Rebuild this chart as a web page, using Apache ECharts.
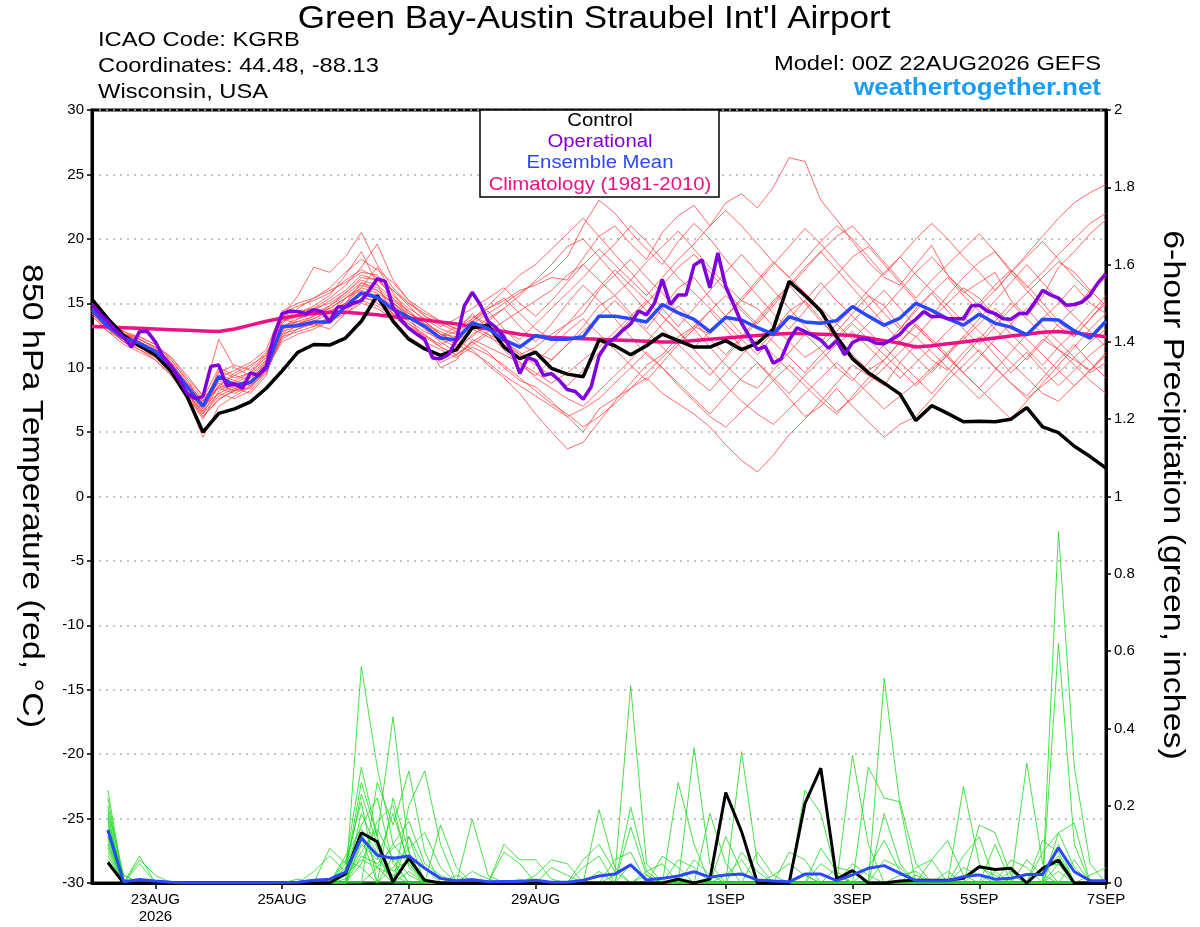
<!DOCTYPE html>
<html><head><meta charset="utf-8">
<script src="https://cdn.jsdelivr.net/npm/echarts@6/dist/echarts.min.js"></script>
<style>html,body{margin:0;padding:0;background:#fff}#c{width:1200px;height:927px}</style>
</head><body><div id="c"></div>
<script>
// ---------------- DATA ----------------
const titleText = "Green Bay-Austin Straubel Int'l Airport";
const xTickLabels = ['23AUG','25AUG','27AUG','29AUG','1SEP','3SEP','5SEP','7SEP'];
const yearLabel = '2026';

// 6-hourly (22AUG 00Z .. 7SEP 00Z), 850 hPa temperature, deg C
const climo = [13.2,13.15,13.1,13.05,13.0,12.95,12.9,12.85, 12.8,13.0,13.3,13.6,13.85,14.05,14.2,14.3, 14.3,14.2,14.1,13.95,13.85,13.7,13.55,13.4, 13.2,13.0,12.8,12.6,12.45,12.35,12.3,12.25, 12.2,12.15,12.1,12.05,12.0,12.0,12.1,12.2, 12.3,12.4,12.5,12.6,12.65,12.65,12.6,12.55, 12.5,12.3,12.1,11.9,11.6,11.7,11.85,12.0, 12.15,12.3,12.45,12.6,12.75,12.8,12.7,12.55, 12.4];
const controlT = [15.3,13.8,12.5,11.7,11.0,9.7,7.75,5.0, 6.45,6.8,7.35,8.4,9.75,11.2,11.8,11.75, 12.3,13.6,15.6,13.6,12.2,11.45,10.95,11.4, 13.1,13.3,11.6,10.7,11.2,9.95,9.5,9.3, 12.15,11.7,11.0,11.7,12.6,12.1,11.6,11.6, 12.1,11.4,11.9,13.0,16.7,15.6,14.4,12.4, 10.7,9.6,8.8,7.95,5.9,7.05,6.45,5.8, 5.85,5.8,6.0,6.9,5.4,4.95,3.9,3.1, 2.2];
const meanT = [14.5,13.2,12.3,11.9,11.25,10.1,8.55,7.0, 9.3,8.65,8.85,9.95,13.2,13.25,13.55,13.55, 14.75,15.8,15.45,14.55,13.9,13.2,12.3,12.15, 13.5,13.05,12.15,11.6,12.5,12.2,12.2,12.4, 14.0,14.0,13.8,13.55,14.9,14.25,13.75,12.8, 13.9,13.7,13.1,12.6,13.95,13.55,13.45,13.65, 14.75,14.0,13.3,13.85,15.0,14.45,13.8,13.3, 14.15,13.45,13.15,12.55,13.75,13.7,12.85,12.3, 13.6];
// 3-hourly operational run
const operT = [14.9,14.2,13.6,12.9,12.35,11.6,12.8,12.8, 12.0,10.85,10.1,9.1,8.0,7.6,7.75,10.1, 10.2,8.6,8.75,8.4,9.6,9.4,10.1,12.55, 14.2,14.4,14.35,14.2,14.5,14.35,13.6,14.7, 14.7,15.0,15.2,16.0,16.9,16.7,14.7,13.7, 13.05,12.6,12.2,10.75,10.7,11.0,12.15,14.8, 15.85,14.9,13.6,13.1,12.4,11.25,9.55,10.8, 10.55,9.4,9.55,9.0,8.3,8.15,7.55,8.5, 10.9,11.85,12.3,12.9,13.4,14.4,14.1,15.0, 16.85,14.9,15.65,15.65,17.95,18.35,16.2,18.9, 16.3,14.9,13.45,12.4,11.4,11.65,10.35,10.7, 12.15,13.1,12.8,12.5,12.15,11.5,12.1,11.0, 11.95,12.25,12.2,11.9,11.85,12.2,12.6,13.3, 13.75,14.35,13.95,14.0,13.8,13.8,13.8,14.8, 14.85,14.4,14.2,13.8,13.75,14.2,14.2,15.05, 16.0,15.65,15.4,14.85,14.9,15.1,15.65,16.6, 17.3];

// 6-hour precipitation, inches (first value is the 00Z analysis: none)
const controlP = [null,.053,0,0,0,0,0,0, 0,0,0,0,0,0,0,0, .024,.130,.107,.003,.064,.007,0,0, 0,0,0,0,0,0,0,0, 0,0,0,0,0,.01,0,.01, .234,.133,0,0,0,.206,.297,.01, .032,0,0,.005,.007,.007,.007,.012, .042,.035,.038,0,.038,.059,0,0, 0];
const meanP = [null,.137,.003,.009,.005,.002,0,0, 0,0,0,0,.001,.002,.007,.01, .028,.117,.072,.064,.07,.038,.012,.006, .009,.003,.004,.004,.007,.002,.002,.007, .018,.023,.047,.008,.012,.018,.029,.015, .021,.023,.008,.005,.003,.023,.023,.006, .021,.038,.045,.025,.006,.006,.006,.016, .021,.01,.012,.022,.022,.091,.029,.006, .006];

// ensemble members, temperature (red)
const redMembers = [
[14.4,13.0,12.6,12.2,11.5,10.3,8.0,6.2,7.5,8.3,9.2,10.5, 12.8,14.2,14.8,15.6,17.2,19.0,16.5,14.0,13.2,12.5,11.8,12.4, 13.8,14.6,15.2,16.0,16.4,17.0,16.8,18.5,20.2,21.0,19.6,18.4, 20.5,21.8,22.6,21.0,22.8,23.5,22.4,24.0,26.3,26.0,23.0,21.5, 19.8,18.2,17.0,16.4,18.0,19.5,17.2,15.8,16.6,17.4,15.2,14.0, 15.5,17.8,19.0,20.4,21.5],
[14.8,13.6,12.2,11.6,10.8,9.6,7.6,4.6,7.0,7.8,8.5,9.8, 12.6,13.0,13.4,13.0,14.2,15.0,14.6,13.8,12.4,11.6,10.4,11.0, 12.0,11.2,10.0,9.0,8.5,7.4,6.2,5.0,6.8,7.6,8.4,9.2, 8.0,7.2,6.4,5.4,4.0,2.8,1.9,3.2,4.8,6.0,7.4,8.8, 10.2,9.4,8.6,10.4,11.8,10.6,9.8,11.2,12.4,11.0,9.6,10.8, 12.2,11.4,10.6,9.8,11.2],
[14.6,13.4,12.8,12.2,11.6,10.4,8.8,7.4,9.4,9.0,8.6,9.6, 12.4,13.4,13.8,14.4,15.0,16.2,17.8,15.8,14.2,13.4,12.8,12.2, 11.4,10.2,9.2,8.0,6.4,5.0,3.7,4.2,5.8,7.4,8.8,10.2, 11.0,12.4,13.2,12.6,14.0,15.2,14.6,13.2,12.0,10.8,11.6,12.8, 14.2,15.6,14.8,13.2,12.4,13.8,15.0,16.2,15.4,14.0,12.6,11.4, 10.2,11.6,12.8,14.2,15.6],
[14.2,13.0,12.0,11.4,10.8,9.8,8.2,6.8,8.6,9.6,10.2,11.0, 14.0,15.6,17.8,17.4,18.6,20.5,18.0,16.2,15.0,14.2,13.6,13.0, 13.4,14.2,15.0,15.8,16.6,17.4,18.6,21.0,23.0,22.0,20.5,19.2, 18.0,19.8,21.2,20.0,18.4,17.0,15.6,14.2,13.0,14.4,16.0,17.2, 18.6,19.4,18.0,16.6,15.2,14.0,15.6,17.0,18.2,19.0,17.4,16.0, 14.6,13.2,12.4,13.8,15.0],
[14.9,13.4,12.2,11.8,11.0,9.9,8.4,6.6,9.0,8.4,8.0,9.4, 13.2,13.6,13.2,14.0,15.4,16.4,16.0,15.0,14.2,13.6,12.6,12.0, 13.6,14.4,13.0,11.8,11.2,10.6,11.8,13.2,14.8,15.6,14.2,13.0, 14.6,16.2,17.0,15.4,14.0,12.6,11.4,12.8,14.4,15.2,13.8,12.2, 11.0,9.8,10.6,12.0,13.4,12.2,11.0,9.6,8.4,9.8,11.2,12.6, 13.8,15.0,16.4,15.0,14.2],
[14.4,13.2,12.6,12.0,11.4,10.6,9.0,7.6,10.0,9.4,9.0,10.4, 13.6,14.0,14.4,15.2,16.0,17.2,16.8,15.6,14.6,13.8,13.0,12.6, 13.0,12.4,11.8,11.0,11.6,12.6,13.4,14.2,16.0,17.2,18.4,17.0, 15.8,14.2,13.0,11.6,10.2,9.0,8.4,9.8,11.2,12.6,11.4,10.0, 9.0,10.4,11.8,13.0,14.6,15.8,14.4,13.0,11.8,13.2,14.6,15.8, 17.0,18.2,17.4,16.0,14.8],
[15.0,13.8,12.8,12.4,11.8,10.8,9.2,7.8,8.4,8.0,8.6,10.0, 12.0,12.6,13.0,13.6,14.4,15.4,15.2,14.4,13.6,12.8,12.2,11.6, 12.4,13.6,14.6,13.2,12.0,13.4,15.0,16.4,15.2,13.8,12.4,11.0, 10.0,8.8,7.6,6.4,7.8,9.2,10.4,9.0,7.6,6.2,7.0,8.4, 7.0,5.8,4.6,5.6,6.2,7.6,9.0,10.2,11.4,10.0,8.8,7.8, 9.2,10.6,11.8,10.4,9.2],
[14.0,12.8,11.8,11.2,10.6,9.4,7.8,6.0,8.2,8.8,9.4,10.6, 14.2,14.8,15.2,15.8,16.8,17.6,17.0,15.4,14.0,13.0,12.0,11.2, 12.6,13.2,12.2,11.0,10.2,9.4,8.6,9.8,11.2,12.4,13.8,15.0, 16.4,17.8,18.8,17.4,16.0,14.6,13.4,14.8,16.2,17.6,19.0,20.2, 21.0,19.6,18.2,16.8,15.4,16.8,18.0,19.2,20.4,19.0,17.6,16.2, 17.4,18.8,20.0,21.2,22.0],
[14.6,13.0,12.4,11.6,11.0,9.8,8.6,7.2,9.6,10.2,9.8,11.0, 13.8,13.4,14.0,14.8,15.6,16.6,16.2,15.2,14.4,13.2,12.4,12.8, 14.2,13.0,11.6,10.4,9.2,8.4,7.6,7.0,8.2,9.4,10.6,12.0, 13.4,14.8,13.6,12.2,11.0,12.4,13.8,15.2,16.4,15.0,13.6,12.4, 13.6,14.8,16.0,14.6,13.2,12.0,10.8,9.6,10.8,12.2,13.4,14.6, 13.2,12.0,10.8,9.6,10.4],
[15.2,13.6,12.6,12.0,11.2,10.0,8.2,6.4,7.8,8.4,8.8,9.8, 12.2,13.0,13.6,14.2,15.0,15.8,15.4,14.2,13.4,12.6,11.6,11.0, 12.0,12.8,13.6,14.4,15.2,16.0,17.2,18.0,16.8,15.6,16.8,18.2, 19.4,20.6,19.2,17.8,16.4,15.2,16.6,18.0,19.4,20.8,19.6,18.2, 16.8,15.6,14.2,13.0,14.4,15.8,17.0,15.6,14.4,13.0,11.8,10.6, 12.0,13.4,14.6,16.0,17.2],
[14.4,13.4,12.4,11.8,11.2,10.2,8.6,7.0,8.0,7.6,8.2,9.6, 12.6,13.8,14.2,14.6,15.4,16.0,15.6,14.8,14.0,13.2,12.4,11.8, 11.2,10.4,9.4,8.6,7.8,7.0,6.2,6.8,7.6,8.8,10.0,11.2, 10.0,8.6,7.4,6.2,5.4,6.6,7.8,9.0,10.2,9.0,7.8,6.6, 7.6,8.8,10.0,11.2,12.4,11.2,10.0,8.8,7.6,8.8,10.0,11.2, 9.8,8.6,9.8,11.0,12.0],
[14.8,13.2,12.0,11.6,11.0,10.2,8.8,7.4,9.2,9.8,10.4,11.4, 14.4,15.0,15.4,16.2,17.4,18.4,17.6,16.6,15.2,14.0,13.4,12.8, 13.6,14.6,15.4,14.2,13.0,12.2,13.4,14.8,16.2,17.6,16.4,15.2, 14.0,12.8,11.6,12.8,14.0,15.4,16.8,18.2,17.0,15.8,14.6,13.4, 12.2,13.4,14.6,16.0,17.4,18.6,17.2,16.0,14.8,16.0,17.4,18.6, 19.8,18.4,17.0,15.8,17.0],
[14.2,12.8,12.2,11.6,10.8,9.6,8.0,6.4,8.6,8.2,8.4,9.8, 13.0,13.4,13.8,14.4,15.0,16.6,16.0,15.0,14.0,12.0,10.0,10.6, 12.2,11.6,11.0,10.4,9.6,8.8,9.6,10.6,11.6,12.8,14.0,15.2, 14.0,12.8,11.4,10.0,8.6,7.4,6.4,5.6,6.8,8.0,9.2,10.4, 9.2,8.0,6.8,7.8,8.8,10.0,11.2,12.4,11.2,10.0,8.8,7.6, 8.6,9.6,10.8,12.0,13.0],
[14.6,13.4,12.6,12.4,11.8,10.6,9.0,7.2,8.4,9.0,9.6,10.8, 13.6,14.2,14.6,15.0,15.8,17.0,16.8,16.0,15.0,14.0,13.2,13.8, 14.6,15.4,16.2,15.0,14.0,15.2,16.6,18.0,19.2,18.0,16.8,15.6, 17.0,18.4,19.6,21.0,22.2,21.0,19.6,18.2,17.0,18.4,19.8,21.0, 20.0,18.6,17.2,18.6,20.0,21.2,20.0,18.6,17.4,16.0,17.4,18.8, 20.2,21.6,22.8,23.6,24.2],
[15.0,13.6,12.4,11.8,11.0,9.8,8.0,6.6,8.0,8.6,9.2,10.2, 12.8,13.2,13.4,13.8,14.8,15.6,15.0,14.2,13.4,12.4,11.6,11.0, 11.8,12.6,12.0,11.2,10.4,11.6,12.8,13.8,12.6,11.4,10.2,9.0, 10.4,11.8,13.0,14.4,15.6,14.4,13.2,12.0,10.8,9.6,11.0,12.2, 13.4,12.2,11.0,9.8,8.6,9.8,11.0,12.2,13.4,14.6,13.4,12.2, 11.0,9.8,8.6,9.8,11.0],
[14.4,13.0,12.2,11.8,11.2,10.0,8.4,7.0,9.8,9.2,9.6,10.8, 14.0,14.4,14.6,15.4,16.4,17.8,19.6,16.8,15.2,14.4,13.6,13.0, 13.8,14.8,16.0,17.2,18.0,19.2,20.4,21.6,20.2,18.8,17.4,16.0, 14.6,13.2,14.6,16.0,17.4,18.8,17.4,16.0,14.6,13.2,12.0,13.4, 14.6,16.0,17.4,18.6,17.2,16.0,14.8,13.6,15.0,16.4,17.6,16.4, 15.0,13.6,12.4,13.8,15.2],
[14.8,13.4,12.4,12.0,11.4,10.4,8.6,7.4,8.8,8.2,8.8,10.0, 12.4,12.8,13.2,13.6,14.2,15.2,14.8,14.0,13.0,12.0,11.4,10.8, 11.6,11.0,10.2,9.2,8.2,7.2,6.4,5.4,6.2,7.2,8.4,9.6, 10.8,12.0,13.2,14.4,13.0,11.6,10.4,9.2,8.0,9.4,10.6,11.8, 12.8,11.6,10.4,9.2,10.4,11.6,12.8,14.0,12.8,11.6,10.4,9.2, 8.0,7.4,8.6,9.8,11.0],
[14.2,13.0,12.0,11.4,10.6,9.4,7.8,6.2,7.6,8.2,8.8,10.4, 13.4,14.6,15.4,16.0,16.6,17.4,17.2,16.0,14.8,13.6,12.6,12.0, 13.0,13.8,14.6,15.6,16.8,18.0,19.4,20.0,18.6,17.2,15.8,14.4, 13.0,11.8,10.6,9.4,10.8,12.2,13.6,15.0,16.4,17.8,19.0,17.6, 16.2,14.8,13.4,12.0,10.8,9.6,11.0,12.4,13.8,15.2,16.6,18.0, 16.6,15.2,14.0,12.8,11.6],
[14.6,13.2,12.2,11.6,11.0,10.0,8.6,7.0,8.6,9.4,10.0,11.2, 13.2,13.8,14.2,14.8,15.8,16.8,16.4,15.4,14.4,13.4,12.6,12.4, 13.2,12.6,11.4,10.2,9.4,10.6,11.8,12.8,14.0,15.2,14.0,12.8, 11.6,10.4,9.2,8.2,9.6,11.0,12.2,11.0,9.8,8.6,7.4,6.4, 7.8,9.2,10.6,12.0,13.2,12.0,10.8,9.6,8.4,7.2,6.0,7.4, 8.8,10.2,11.6,13.0,14.2],
[15.0,13.8,12.6,12.2,11.6,10.8,9.4,7.8,12.2,10.0,9.4,10.6, 13.0,13.6,14.0,14.6,15.4,16.2,15.8,15.0,14.0,13.2,12.4,13.2, 14.0,13.4,12.8,12.2,13.4,14.6,15.8,17.0,18.4,19.6,21.0,19.8, 18.4,17.0,15.8,14.6,13.4,12.2,11.0,12.4,13.8,15.2,16.6,15.2, 14.0,12.8,11.6,10.4,9.2,8.0,9.4,10.8,12.2,13.6,15.0,13.8, 12.6,11.4,10.2,9.0,8.0]
];

// ensemble members, 6-hour precipitation (green)
const greenMembers = [
[null,.24,0,.07,0,0,0,0, 0,0,0,0,0,0,0,0, 0,.56,.30,.10,.05,0,0,0, 0,0,0,0,0,0,0,0, 0,.02,.51,.05,0,0,0,0, 0,0,0,0,0,0,0,0, 0,0,0,0,0,0,0,0, 0,0,0,0,0,.91,.30,.05, 0],
[null,.15,.02,0,0,0,0,0, 0,0,0,0,0,0,0,0, .05,.30,.12,.43,.08,0,0,0, 0,0,0,0,0,0,0,0, 0,0,0,0,0,0,.35,.05, 0,0,0,0,0,0,0,0, 0,0,.53,.20,0,0,0,0, 0,0,0,0,0,.62,.10,0, 0],
[null,.12,0,.06,.02,0,0,0, 0,0,0,0,0,0,0,0, 0,0,.26,.15,.29,.08,0,0, 0,0,0,0,0,0,0,0, 0,0,0,0,0,0,0,0, 0,.34,.05,0,0,0,0,0, .33,.10,0,0,0,0,0,0, 0,0,0,.31,.05,0,0,0, 0],
[null,.10,0,0,0,0,0,0, 0,0,0,0,0,0,0,.09, .05,.21,0,0,.20,.29,.10,0, 0,0,0,0,0,0,0,0, 0,0,0,0,0,0,0,0, 0,0,0,0,0,.24,.18,.02, 0,0,0,0,0,0,0,.25, .05,0,0,0,0,0,0,0, 0],
[null,.18,0,0,0,0,0,0, 0,0,0,0,0,0,.03,.07, .03,.26,.12,0,0,0,.15,.04, 0,0,0,0,0,0,0,0, .19,.04,0,0,0,0,0,0, 0,0,0,0,0,0,0,0, 0,.30,.22,.21,.05,0,0,0, 0,0,0,0,0,0,0,0, 0],
[null,.08,0,0,0,0,0,0, 0,0,0,0,0,0,0,0, .04,.15,.22,.05,0,0,0,0, .165,.02,0,0,0,0,0,0, 0,0,0,0,0,.26,.10,0, 0,0,0,0,0,0,0,0, 0,0,0,0,0,0,0,0, .15,.13,.02,0,0,0,0,0, 0],
[null,.13,0,0,0,0,0,0, 0,0,0,0,0,0,0,0, 0,.10,.06,.18,.05,0,0,0, 0,0,.10,.06,.06,.01,0,0, 0,0,.197,.03,0,0,0,0, 0,0,0,0,0,0,0,0, 0,0,0,0,0,.06,.11,.02, 0,0,0,0,0,.13,.155,0, 0],
[null,.20,.01,0,0,0,0,0, 0,0,0,0,0,0,0,0, .07,.14,.08,0,.12,.04,0,0, 0,0,0,0,0,0,0,.06, .10,.03,0,0,0,0,0,.18, .05,0,0,0,0,0,0,0, 0,0,0,0,0,0,0,0, 0,0,0,0,.11,.08,0,0, 0],
[null,.06,0,0,0,0,0,0, 0,0,0,0,0,.01,0,0, .02,.12,0,.22,.08,0,0,0, 0,0,0,0,0,0,0,0, 0,0,.145,.02,0,0,0,0, 0,0,0,0,.08,.06,0,0, 0,0,.18,.05,0,0,0,0, 0,.10,0,0,0,0,0,0, 0],
[null,.16,0,0,0,0,0,0, 0,0,0,0,0,0,0,0, 0,0,.04,.10,.16,.05,.02,0, 0,0,0,0,0,0,0,0, 0,0,0,0,.07,.04,0,0, 0,.08,.03,0,0,0,0,0, 0,0,0,0,.04,.06,0,0, 0,0,.06,.04,0,.10,0,0, 0],
[null,.11,0,0,0,0,0,0, 0,0,0,0,0,0,0,0, 0,.07,.05,.09,.12,0,0,0, 0,0,0,0,.02,.06,.05,0, 0,0,0,0,0,0,0,0, 0,0,0,0,0,0,.09,.03, 0,0,0,0,0,0,0,.07, .12,0,0,0,.08,.13,.04,0, 0],
[null,.09,0,0,0,0,0,0, 0,0,0,0,0,0,0,0, .01,.08,.14,.06,0,0,0,.02, 0,0,.08,.05,0,0,0,0, 0,0,0,0,0,0,.06,.02, 0,0,0,0,0,0,0,0, 0,.04,.11,.03,0,0,0,0, 0,0,0,0,0,0,0,.02, .04],
[null,.22,0,0,0,0,0,0, 0,0,0,0,0,0,0,0, 0,.18,.09,.03,.06,0,0,0, 0,0,0,0,0,0,0,0, 0,0,0,.03,.05,0,0,0, 0,0,.08,.02,0,0,0,0, .05,.02,0,0,0,0,0,0, .04,.02,0,0,.03,.07,0,0, 0],
[null,.14,0,0,0,0,0,0, 0,0,0,0,0,0,0,0, .06,.04,0,.07,.02,0,0,0, 0,0,0,0,0,0,0,.04, .07,0,0,0,0,0,0,0, .12,.03,0,0,0,0,0,0, 0,0,0,0,0,0,.03,0, 0,0,0,.06,.02,0,0,0, 0],
[null,.07,0,0,0,0,0,0, 0,0,0,0,0,0,0,0, 0,.05,.16,.20,.04,0,0,0, 0,0,0,0,0,0,0,0, 0,.06,.08,0,0,0,0,0, 0,0,0,0,0,0,0,.04, .03,0,0,0,.02,0,0,0, 0,0,0,0,0,.03,0,0, 0],
[null,.19,.02,0,0,0,0,0, 0,0,0,0,0,0,0,0, .03,.23,.10,0,0,0,0,0, 0,0,0,0,0,0,0,0, 0,0,0,0,0,.06,.04,0, 0,0,0,0,0,.02,0,0, 0,0,.06,.04,0,0,0,0, 0,0,.03,0,0,0,.06,0, 0],
[null,.05,0,0,0,0,0,0, 0,0,0,0,0,0,0,0, 0,0,0,.04,.09,.13,.04,0, 0,0,0,0,0,.04,.02,0, 0,0,0,0,0,0,0,0, 0,0,0,.02,.05,.02,0,0, 0,0,0,0,0,0,0,0, 0,0,0,0,0,.05,0,0, 0],
[null,.12,0,0,0,0,0,0, 0,0,0,0,0,0,0,0, .02,.06,.04,0,0,0,0,0, .03,.01,0,0,0,0,0,0, 0,0,0,0,0,0,0,0, .02,.06,0,0,0,0,0,0, 0,0,0,0,0,0,0,.04, .02,0,0,0,0,0,0,0, 0],
[null,.10,0,0,0,0,0,0, 0,0,0,0,0,0,0,0, 0,.11,.07,0,.03,0,0,0, 0,0,0,0,0,0,0,0, .03,0,.05,0,0,0,0,0, 0,0,0,0,0,0,0,0, 0,0,0,.02,.03,0,0,0, 0,0,0,0,.04,.05,0,0, 0],
[null,.17,0,.05,0,0,0,0, 0,0,0,0,0,0,0,0, 0,.13,.04,.02,0,0,0,0, 0,0,0,.01,0,0,0,0, 0,0,0,.02,0,0,0,0, 0,0,0,0,0,0,.05,.02, 0,0,0,0,0,0,0,0, 0,.03,0,0,0,0,0,0, 0]
];

// ---------------- AXIS CATEGORIES ----------------
const MON = ['JAN','FEB','MAR','APR','MAY','JUN','JUL','AUG','SEP','OCT','NOV','DEC'];
const startMs = Date.UTC(2026, 7, 22, 0);
const cats3h = [], labelMap = {};
for (let k = 0; k < operT.length; k++) {
  const d = new Date(startMs + k * 3 * 3600e3);
  const day = d.getUTCDate() + MON[d.getUTCMonth()];
  const hh = d.getUTCHours();
  const name = day + ' ' + String(hh).padStart(2, '0') + 'Z';
  cats3h.push(name);
  if (hh === 0 && xTickLabels.includes(day)) labelMap[name] = day;
}
const cats6h = cats3h.filter((_, k) => k % 2 === 0);
const showTick = (idx) => labelMap[cats3h[idx]] !== undefined;

// ---------------- COLORS ----------------
const C_CTRL = '#000000', C_OPER = '#7f00dc', C_MEAN = '#2a48ff', C_CLIM = '#ee1184';
const C_RED = 'rgba(255,70,70,0.8)', C_GREEN = 'rgba(40,220,40,0.85)';
const FONT = 'Liberation Sans';
const SX = 1.13;

const series = [];
redMembers.forEach((m, i) => series.push({
  name: 'T member ' + (i + 1), type: 'line', xAxisIndex: 1, yAxisIndex: 0, data: m,
  symbol: 'none', silent: true, lineStyle: { color: C_RED, width: 1 }, z: 2
}));
greenMembers.forEach((m, i) => series.push({
  name: 'P member ' + (i + 1), type: 'line', xAxisIndex: 1, yAxisIndex: 1, data: m,
  symbol: 'none', silent: true, lineStyle: { color: C_GREEN, width: 1 }, z: 2
}));
series.push({ name: 'Climatology', type: 'line', xAxisIndex: 1, yAxisIndex: 0, data: climo, symbol: 'none', lineStyle: { color: C_CLIM, width: 3.5 }, z: 3 });
series.push({ name: 'Control P', type: 'line', xAxisIndex: 1, yAxisIndex: 1, data: controlP, symbol: 'none', lineStyle: { color: C_CTRL, width: 3 }, z: 3 });
series.push({ name: 'Mean P', type: 'line', xAxisIndex: 1, yAxisIndex: 1, data: meanP, symbol: 'none', lineStyle: { color: C_MEAN, width: 3 }, z: 3 });
series.push({ name: 'Control T', type: 'line', xAxisIndex: 1, yAxisIndex: 0, data: controlT, symbol: 'none', lineStyle: { color: C_CTRL, width: 3.5 }, z: 4 });
series.push({ name: 'Mean T', type: 'line', xAxisIndex: 1, yAxisIndex: 0, data: meanT, symbol: 'none', lineStyle: { color: C_MEAN, width: 3.5 }, z: 4 });
series.push({ name: 'Operational T', type: 'line', xAxisIndex: 0, yAxisIndex: 0, data: operT, symbol: 'none', lineStyle: { color: C_OPER, width: 3.5 }, z: 5 });

function txt(x, y, s, o) {
  o = o || {};
  return {
    type: 'text', x: x, y: y, z: 100, scaleX: SX, rotation: o.rotation || 0,
    style: {
      text: s, x: 0, y: 0, fill: o.color || '#000',
      fontSize: o.size || 21, fontFamily: FONT, fontWeight: o.weight || 'normal',
      textAlign: o.align || 'left', align: o.align || 'left',
      textVerticalAlign: 'middle', verticalAlign: 'middle'
    }
  };
}

const chart = echarts.init(document.getElementById('c'), null, { renderer: 'canvas' });
chart.setOption({
  animation: false,
  backgroundColor: '#fff',
  grid: { left: 92, right: 94, top: 110, bottom: 44, show: true, borderColor: '#000', borderWidth: 3, backgroundColor: 'transparent' },
  xAxis: [{
    type: 'category', data: cats3h, boundaryGap: false, position: 'bottom',
    axisLine: { show: true, onZero: false, lineStyle: { color: '#000', width: 3 } },
    axisTick: { show: true, interval: (i) => showTick(i), length: 6, lineStyle: { color: '#000', width: 1.5 } },
    axisLabel: {
      interval: (i) => showTick(i), color: '#000', fontSize: 15, fontFamily: FONT, margin: 8, lineHeight: 17,
      formatter: (v) => { const l = labelMap[v] || ''; return l === xTickLabels[0] ? l + '\n' + yearLabel : l; }
    },
    splitLine: { show: false }
  }, {
    type: 'category', data: cats6h, boundaryGap: false, show: false,
    axisLine: { show: false, onZero: false }
  }],
  yAxis: [{
    type: 'value', min: -30, max: 30, interval: 5, position: 'left',
    axisLine: { show: true, onZero: false, lineStyle: { color: '#000', width: 3 } },
    axisTick: { show: true, length: 5, lineStyle: { color: '#000', width: 1.5 } },
    axisLabel: { color: '#000', fontSize: 15, fontFamily: FONT, margin: 8 },
    splitLine: { show: true, lineStyle: { color: '#b0b0b0', type: [2, 5], width: 1.5 } }
  }, {
    type: 'value', min: 0, max: 2, interval: 0.2, position: 'right',
    axisLine: { show: true, onZero: false, lineStyle: { color: '#000', width: 3 } },
    axisTick: { show: true, length: 5, lineStyle: { color: '#000', width: 1.5 } },
    axisLabel: { color: '#000', fontSize: 15, fontFamily: FONT, margin: 8, formatter: (v) => String(+(+v).toFixed(1)) },
    splitLine: { show: false }
  }],
  series: series,
  graphic: { elements: [
    txt(594, 19, titleText, { size: 31, align: 'center' }),
    txt(98, 40, 'ICAO Code: KGRB'),
    txt(98, 66, 'Coordinates: 44.48, -88.13'),
    txt(98, 92, 'Wisconsin, USA'),
    txt(1101, 64, 'Model: 00Z 22AUG2026 GEFS', { align: 'right' }),
    txt(1101, 89, 'weathertogether.net', { align: 'right', size: 23, weight: 'bold', color: '#1a9ef5' }),
    { type: 'rect', z: 99, shape: { x: 480, y: 110, width: 239, height: 87 }, style: { fill: '#fff', stroke: '#000', lineWidth: 1.5 } },
    txt(600, 121, 'Control', { size: 18, align: 'center', color: C_CTRL }),
    txt(600, 142, 'Operational', { size: 18, align: 'center', color: C_OPER }),
    txt(600, 163, 'Ensemble Mean', { size: 18, align: 'center', color: C_MEAN }),
    txt(600, 185, 'Climatology (1981-2010)', { size: 18, align: 'center', color: C_CLIM }),
    txt(31, 496, '850 hPa Temperature (red, \u00B0C)', { size: 30, align: 'center', rotation: -Math.PI / 2 }),
    txt(1172, 495, '6-hour Precipitation (green, inches)', { size: 30, align: 'center', rotation: -Math.PI / 2 })
  ]}
});
</script>
</body></html>
